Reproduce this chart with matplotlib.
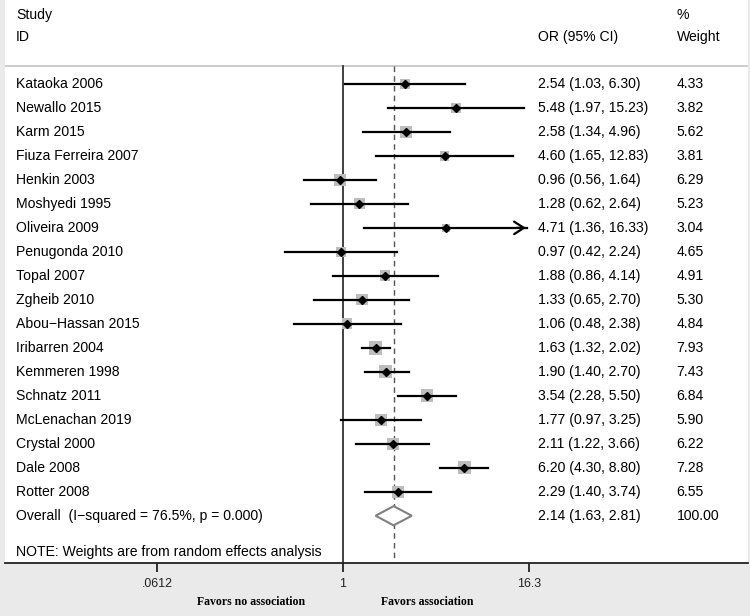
import numpy as np
import matplotlib
matplotlib.use("Agg")
import matplotlib.pyplot as plt
from matplotlib.patches import Polygon

plt.rcParams['font.family'] = ['Liberation Sans', 'DejaVu Sans']

studies = ['Kataoka 2006', 'Newallo 2015', 'Karm 2015', 'Fiuza Ferreira 2007',
           'Henkin 2003', 'Moshyedi 1995', 'Oliveira 2009', 'Penugonda 2010',
           'Topal 2007', 'Zgheib 2010', 'Abou\u2212Hassan 2015', 'Iribarren 2004',
           'Kemmeren 1998', 'Schnatz 2011', 'McLenachan 2019', 'Crystal 2000',
           'Dale 2008', 'Rotter 2008']
odds = [2.54, 5.48, 2.58, 4.60, 0.96, 1.28, 4.71, 0.97, 1.88, 1.33, 1.06,
        1.63, 1.90, 3.54, 1.77, 2.11, 6.20, 2.29]
lower = [1.03, 1.97, 1.34, 1.65, 0.56, 0.62, 1.36, 0.42, 0.86, 0.65, 0.48,
         1.32, 1.40, 2.28, 0.97, 1.22, 4.30, 1.40]
upper = [6.30, 15.23, 4.96, 12.83, 1.64, 2.64, 16.33, 2.24, 4.14, 2.70, 2.38,
         2.02, 2.70, 5.50, 3.25, 3.66, 8.80, 3.74]
weights = [4.33, 3.82, 5.62, 3.81, 6.29, 5.23, 3.04, 4.65, 4.91, 5.30, 4.84,
           7.93, 7.43, 6.84, 5.90, 6.22, 7.28, 6.55]

overall_label = 'Overall  (I\u2212squared = 76.5%, p = 0.000)'
overall_or, overall_lo, overall_hi = 2.14, 1.63, 2.81
overall_weight = 100.00

x_ticks = [0.0612, 1, 16.3]
x_ticklabels = ['.0612', '1', '16.3']
x_max = 16.3

fig = plt.figure(figsize=(7.5, 6.16), dpi=100)
fig.patch.set_facecolor('#eaeaea')
ax = fig.add_axes([5 / 750, 53 / 616, 743 / 750, 563 / 616])
ax.set_facecolor('white')

ax.set_xscale('log')
ax.set_xlim(0.00620, 441)
ax.set_ylim(19.97, -3.50)

for s in ['left', 'right', 'top']:
    ax.spines[s].set_visible(False)
ax.spines['bottom'].set_linewidth(1.3)
ax.spines['bottom'].set_color('#222222')

ax.set_yticks([])
ax.set_xticks(x_ticks)
ax.set_xticklabels(x_ticklabels, fontsize=8.9)
ax.xaxis.set_minor_locator(matplotlib.ticker.NullLocator())
ax.tick_params(axis='x', length=6.5, width=1.3, pad=4.5, colors='#222222')

tx = ax.get_yaxis_transform()  # x in axes fraction, y in data
col_study, col_or, col_w = 0.0148, 0.7177, 0.904
fs = 10.1

# header
ax.text(col_study, -2.88, 'Study', transform=tx, fontsize=fs, va='center')
ax.text(col_study, -1.96, 'ID', transform=tx, fontsize=fs, va='center')
ax.text(col_or, -1.96, 'OR (95% CI)', transform=tx, fontsize=fs, va='center')
ax.text(col_w, -2.88, '%', transform=tx, fontsize=fs, va='center')
ax.text(col_w, -1.96, 'Weight', transform=tx, fontsize=fs, va='center')
ax.axhline(-0.75, color='#c8c8c8', lw=1.3)

# reference lines
ax.plot([1, 1], [-0.75, 19.97], color='#333333', lw=1.3)
ax.plot([overall_or, overall_or], [-0.75, 19.97], color='#555555', lw=1.0,
        ls=(0, (4, 3)))

rows = np.arange(len(studies))
ax.scatter(odds, rows, marker='s', s=(3.5 * np.sqrt(weights)) ** 2,
           color='#bdbdbd', zorder=2, linewidths=0)

for i in rows:
    if upper[i] > x_max:
        ax.plot([lower[i], x_max * 0.97], [i, i], color='black', lw=1.6, zorder=3)
        ax.annotate('', xy=(x_max, i), xytext=(x_max * 0.8, i),
                    arrowprops=dict(arrowstyle='->,head_length=0.7,head_width=0.45',
                                    color='black', lw=1.6), zorder=3)
    else:
        ax.plot([lower[i], upper[i]], [i, i], color='black', lw=1.6, zorder=3)
    ax.plot(odds[i], i, marker='D', ms=4.2, color='black', zorder=4)
    ax.text(col_study, i, studies[i], transform=tx, fontsize=fs, va='center')
    ax.text(col_or, i, f'{odds[i]:.2f} ({lower[i]:.2f}, {upper[i]:.2f})',
            transform=tx, fontsize=fs, va='center')
    ax.text(col_w, i, f'{weights[i]:.2f}', transform=tx, fontsize=fs, va='center')

# overall diamond
yo = len(studies)
diamond = Polygon([(overall_lo, yo), (overall_or, yo - 0.4),
                   (overall_hi, yo), (overall_or, yo + 0.4)],
                  closed=True, facecolor='white', edgecolor='#808080', lw=1.5,
                  zorder=4)
ax.add_patch(diamond)
ax.text(col_study, yo, overall_label, transform=tx, fontsize=fs, va='center')
ax.text(col_or, yo, f'{overall_or:.2f} ({overall_lo:.2f}, {overall_hi:.2f})',
        transform=tx, fontsize=fs, va='center')
ax.text(col_w, yo, f'{overall_weight:.2f}', transform=tx, fontsize=fs, va='center')

ax.text(col_study, 19.52, 'NOTE: Weights are from random effects analysis',
        transform=tx, fontsize=fs, va='center')

fig.text(251 / 750, 1 - 602 / 616, 'Favors no association', ha='center',
         va='center', fontsize=8.5, fontweight='bold', family='Liberation Serif')
fig.text(427 / 750, 1 - 602 / 616, 'Favors association', ha='center',
         va='center', fontsize=8.5, fontweight='bold', family='Liberation Serif')

fig.savefig('out.png', dpi=100, facecolor=fig.get_facecolor())
